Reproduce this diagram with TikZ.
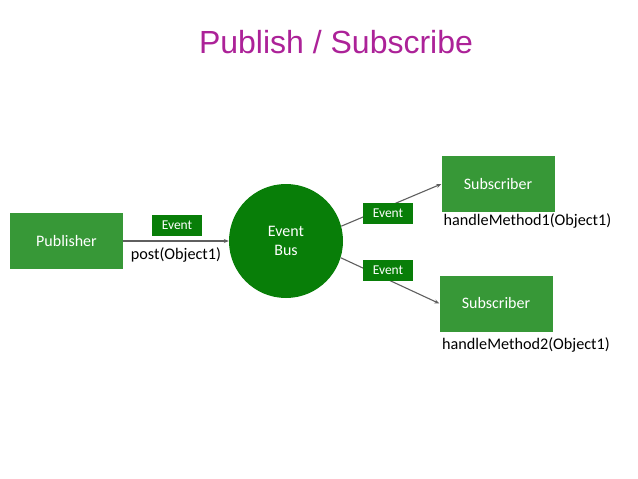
\documentclass[tikz,border=0pt]{standalone}
\usepackage{fontspec}
\setmainfont{Carlito}
\newfontfamily\titlefont{Liberation Sans}
\usetikzlibrary{arrows.meta}
\definecolor{boxgreen}{RGB}{55,152,55}
\definecolor{darkgreen}{RGB}{8,126,8}
\definecolor{titlemag}{RGB}{172,34,152}
\definecolor{linegray}{RGB}{95,95,95}
\begin{document}
\begin{tikzpicture}[x=1pt,y=-1pt,
  rolebox/.style={fill=boxgreen,text=white,minimum width=113pt,minimum height=56pt,inner sep=0pt,font=\fontsize{16}{18}\selectfont},
  evlabel/.style={fill=darkgreen,text=white,minimum width=50pt,minimum height=21pt,inner sep=0pt,font=\fontsize{13.5}{15}\selectfont},
  caption/.style={text=black,inner sep=0pt,font=\fontsize{16.2}{18}\selectfont},
  conn/.style={draw=linegray,line width=1.1pt,-{Stealth[length=5pt,width=4pt]}}]
\useasboundingbox (0,0) rectangle (638,479);
\node[text=titlemag,font=\titlefont\fontsize{32}{36}\selectfont,inner sep=0pt] (title) at (336,42) {Publish / Subscribe};
\node[rolebox] (pub) at (66.5,241) {Publisher};
\node[circle,fill=darkgreen,minimum size=114pt,inner sep=0pt,text=white,align=center,font=\fontsize{16}{19.5}\selectfont] (bus) at (286,241) {Event\\Bus};
\node[rolebox] (sub1) at (498,184) {Subscriber};
\node[rolebox] (sub2) at (496,303.5) {Subscriber};
\draw[conn] (pub.east) -- (bus.west);
\draw[conn] (bus.15) -- (sub1.west);
\draw[conn] (bus.-17) -- (sub2.west);
\node[evlabel] (ev1) at (177,225.5) {Event};
\node[evlabel] (ev2) at (388,213.5) {Event};
\node[evlabel] (ev3) at (388,270.5) {Event};
\node[caption] (c1) at (176,255) {post(Object1)};
\node[caption] (c2) at (527.5,220.5) {handleMethod1(Object1)};
\node[caption] (c3) at (526,345) {handleMethod2(Object1)};
\end{tikzpicture}
\end{document}
